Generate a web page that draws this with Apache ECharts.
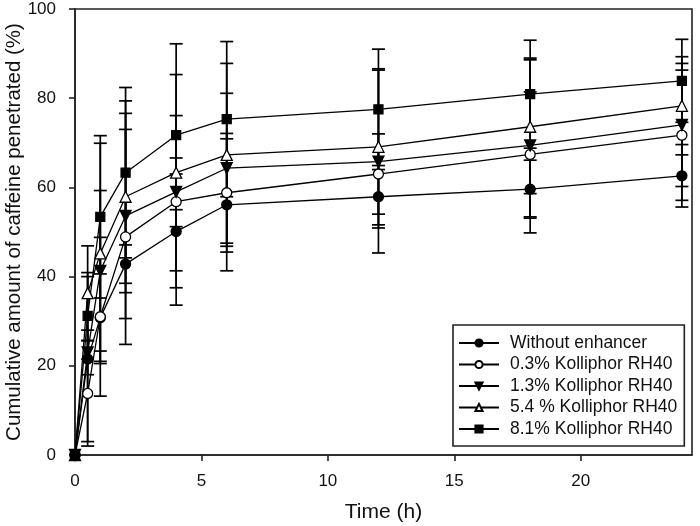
<!DOCTYPE html>
<html>
<head>
<meta charset="utf-8">
<script src="https://cdn.jsdelivr.net/npm/echarts@6/dist/echarts.min.js"></script>
<style>html,body{margin:0;padding:0;background:#fff}#c{width:700px;height:526px}</style>
</head>
<body>
<div id="c"></div>
<script>
// ---- data ----
const times = [0, 0.5, 1, 2, 4, 6, 12, 18, 24];
const seriesNames = ['Without enhancer', '0.3% Kolliphor RH40', '1.3% Kolliphor RH40', '5.4 % Kolliphor RH40', '8.1% Kolliphor RH40'];
const without = [0, 21.5, 30.8, 42.8, 50.1, 56.1, 57.9, 59.6, 62.6];
const k03 = [0, 13.8, 31.0, 48.9, 56.8, 58.8, 63.0, 67.4, 71.7];
const k13 = [0, 23.0, 41.3, 53.6, 59.0, 64.3, 65.8, 69.4, 74.0];
const k54 = [0, 36.3, 45.2, 57.9, 63.3, 67.3, 69.1, 73.6, 78.3];
const k81 = [0, 31.2, 53.4, 63.3, 71.7, 75.3, 77.5, 80.9, 83.9];
const withoutSD = [0, 18.5, 9.8, 4.3, 16.5, 14.8, 7.0, 6.5, 7.0];
const k03SD = [0, 11.8, 17.8, 24.1, 19.3, 13.3, 9.0, 14.0, 14.6];
const k13SD = [0, 5.0, 18.0, 23.0, 4.0, 16.8, 20.5, 19.6, 13.8];
const k54SD = [0, 10.6, 24.7, 21.5, 22.0, 20.5, 17.5, 15.0, 11.0];
const k81SD = [0, 9.7, 18.2, 19.1, 20.5, 17.4, 13.5, 12.1, 9.3];
const xTicks = [0, 5, 10, 15, 20];
const yTicks = [0, 20, 40, 60, 80, 100];

const means = [without, k03, k13, k54, k81];
const sds = [withoutSD, k03SD, k13SD, k54SD, k81SD];
const styles = [
  {symbol: 'circle', size: 10, fill: '#000', rotate: 0},
  {symbol: 'circle', size: 10, fill: '#fff', rotate: 0},
  {symbol: 'triangle', size: 11, fill: '#000', rotate: 180},
  {symbol: 'triangle', size: 11, fill: '#fff', rotate: 0},
  {symbol: 'rect', size: 9, fill: '#000', rotate: 0}
];

const FONT = '"Liberation Sans", Arial, sans-serif';
const series = [];
means.forEach((m, i) => {
  series.push({
    type: 'custom',
    silent: true,
    z: 1,
    data: times.map((t, j) => [t, m[j], sds[i][j]]),
    renderItem: function (params, api) {
      const x = api.value(0), y = api.value(1), e = api.value(2);
      if (!e) return null;
      const top = api.coord([x, y + e]);
      const bot = api.coord([x, y - e]);
      const hw = 6.5;
      const st = {stroke: '#000', lineWidth: 1.7};
      return {type: 'group', children: [
        {type: 'line', shape: {x1: top[0], y1: top[1], x2: bot[0], y2: bot[1]}, style: st},
        {type: 'line', shape: {x1: top[0] - hw, y1: top[1], x2: top[0] + hw, y2: top[1]}, style: st},
        {type: 'line', shape: {x1: bot[0] - hw, y1: bot[1], x2: bot[0] + hw, y2: bot[1]}, style: st}
      ]};
    }
  });
});
means.forEach((m, i) => {
  const s = styles[i];
  series.push({
    name: seriesNames[i],
    type: 'line',
    z: 3,
    data: times.map((t, j) => [t, m[j]]),
    symbol: s.symbol,
    symbolSize: s.size,
    symbolRotate: s.rotate,
    showAllSymbol: true,
    lineStyle: {color: '#000', width: 1.3},
    itemStyle: {color: s.fill, borderColor: '#000', borderWidth: 1.3},
    emphasis: {disabled: true}
  });
});

const chart = echarts.init(document.getElementById('c'), null, {renderer: 'canvas'});
chart.setOption({
  animation: false,
  backgroundColor: '#fff',
  grid: {left: 75, right: 8, top: 9, bottom: 71, containLabel: false, outerBoundsMode: 'none', show: true, borderColor: '#222', borderWidth: 1.6, backgroundColor: 'transparent'},
  legend: {
    data: seriesNames,
    orient: 'vertical',
    left: 453, top: 325,
    padding: [9, 7, 8, 5],
    itemWidth: 40, itemHeight: 9, itemGap: 3.5,
    borderColor: '#222', borderWidth: 1.6,
    backgroundColor: '#fff',
    textStyle: {fontFamily: FONT, fontSize: 17.5, color: '#111', padding: [0, 0, 0, 6]}
  },
  xAxis: {
    type: 'value', min: 0, max: 24.4,
    name: 'Time (h)', nameLocation: 'middle', nameGap: 47, nameMoveOverlap: false,
    nameTextStyle: {fontFamily: FONT, fontSize: 21, color: '#111'},
    axisLine: {show: true, onZero: false, lineStyle: {color: '#222', width: 1.6}},
    axisTick: {show: true, inside: false, length: 6, customValues: xTicks, lineStyle: {color: '#222', width: 1.6}},
    axisLabel: {customValues: xTicks, fontFamily: FONT, fontSize: 17, color: '#111', margin: 18},
    splitLine: {show: false}
  },
  yAxis: {
    type: 'value', min: 0, max: 100, interval: 20,
    name: 'Cumulative amount of caffeine penetrated (%)', nameLocation: 'middle', nameGap: 50, nameMoveOverlap: false,
    nameTextStyle: {fontFamily: FONT, fontSize: 20.5, color: '#111'},
    axisLine: {show: true, onZero: false, lineStyle: {color: '#222', width: 1.6}},
    axisTick: {show: true, inside: false, length: 6, customValues: yTicks, lineStyle: {color: '#222', width: 1.6}},
    axisLabel: {customValues: yTicks, fontFamily: FONT, fontSize: 17, color: '#111', margin: 19},
    splitLine: {show: false}
  },
  series: series
});
</script>
</body>
</html>
